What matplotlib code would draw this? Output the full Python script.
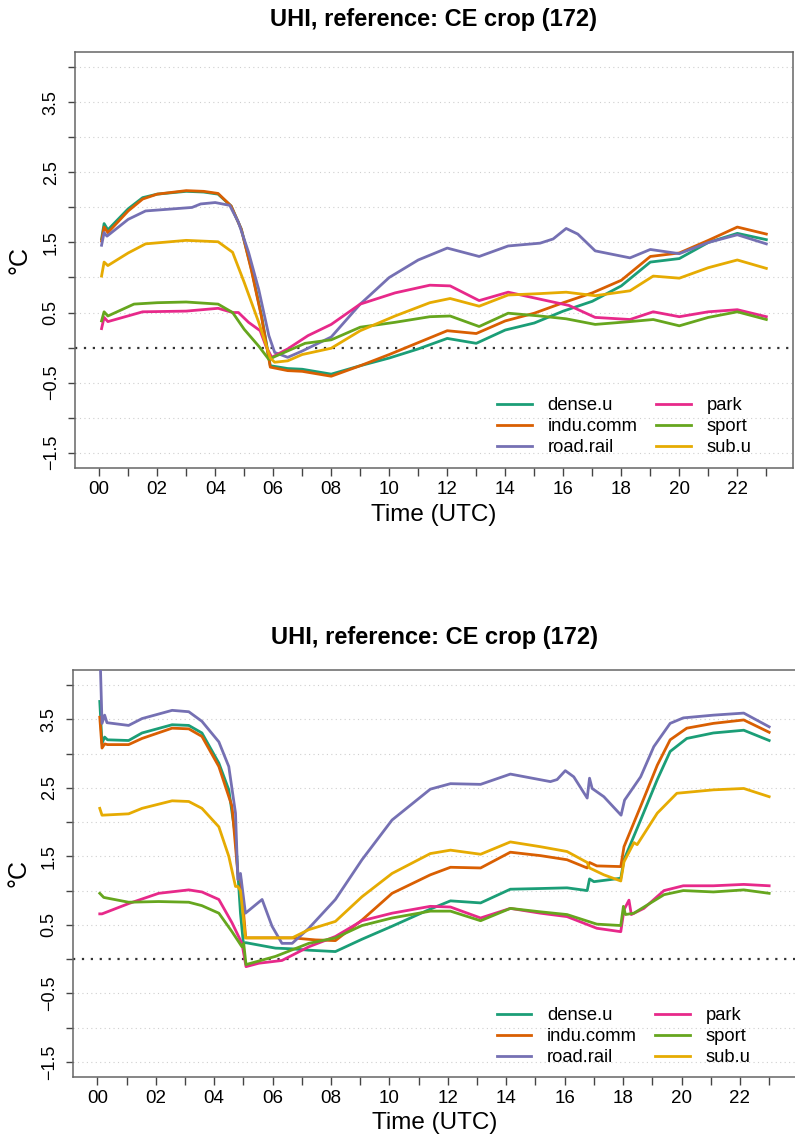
import numpy as np
import matplotlib
matplotlib.use("Agg")
import matplotlib.pyplot as plt

plt.rcParams['font.family'] = ['Liberation Sans', 'DejaVu Sans']

# series names and colours (Dark2)
names = ["dense.u", "indu.comm", "road.rail", "park", "sport", "sub.u"]
colors = ["#1B9E77", "#D95F02", "#7570B3", "#E7298A", "#66A61E", "#E6AB02"]

title = "UHI, reference: CE crop (172)"
hour_ticks = list(range(0, 24))
hour_labels = ["%02d" % h if h % 2 == 0 else "" for h in hour_ticks]
y_ticks = [-1.5, -1.0, -0.5, 0.0, 0.5, 1.0, 1.5, 2.0, 2.5, 3.0, 3.5, 4.0]
y_labels = ["\u22121.5", "", "\u22120.5", "", "0.5", "", "1.5", "", "2.5", "", "3.5", ""]

# ---- top panel (hours UTC, degC) ----
top_t_du = [0.083, 0.17, 0.3, 1.0, 1.5, 2.0, 3.0, 3.6, 4.1, 4.55, 4.9, 5.25, 5.6, 5.9, 6.5, 7.0,
            8.0, 9.0, 10.0, 11.0, 12.0, 13.0, 14.0, 15.0, 16.0, 17.0, 18.0, 19.0, 20.0, 21.0, 22.0, 23.0]
top_dense = [1.55, 1.77, 1.68, 1.98, 2.14, 2.19, 2.23, 2.22, 2.19, 2.02, 1.69, 1.12, 0.45, -0.26, -0.30, -0.31,
             -0.38, -0.26, -0.15, -0.02, 0.13, 0.06, 0.25, 0.35, 0.52, 0.66, 0.88, 1.22, 1.27, 1.50, 1.63, 1.54]
top_indu = [1.52, 1.72, 1.64, 1.95, 2.12, 2.19, 2.24, 2.23, 2.20, 2.02, 1.69, 1.10, 0.43, -0.28, -0.33, -0.34,
            -0.41, -0.26, -0.10, 0.07, 0.24, 0.20, 0.38, 0.49, 0.64, 0.78, 0.96, 1.30, 1.35, 1.53, 1.72, 1.62]
top_t_road = [0.083, 0.17, 0.27, 1.0, 1.6, 3.2, 3.5, 4.0, 4.5, 4.8, 5.15, 5.5, 5.85, 6.05, 6.5, 7.0, 8.0,
              9.0, 10.0, 11.0, 12.0, 13.1, 14.1, 15.2, 15.65, 16.1, 16.5, 17.1, 18.3, 19.0, 20.0, 21.0, 22.0, 23.0]
top_road = [1.46, 1.64, 1.59, 1.83, 1.95, 2.00, 2.05, 2.07, 2.03, 1.79, 1.36, 0.83, 0.17, -0.07, -0.14, -0.05, 0.15,
            0.62, 1.00, 1.25, 1.42, 1.30, 1.45, 1.49, 1.55, 1.70, 1.62, 1.38, 1.28, 1.40, 1.34, 1.50, 1.61, 1.48]
top_t_park = [0.083, 0.17, 0.3, 1.5, 3.0, 4.1, 4.6, 4.8, 5.15, 5.55, 5.75, 5.95, 6.5, 7.2, 8.0, 9.0, 10.2,
              11.4, 12.1, 13.1, 14.1, 15.2, 16.2, 17.1, 18.3, 19.1, 20.0, 21.0, 22.0, 23.0]
top_park = [0.27, 0.43, 0.37, 0.51, 0.52, 0.56, 0.50, 0.50, 0.36, 0.24, 0.02, -0.14, -0.02, 0.17, 0.33, 0.62, 0.78,
            0.89, 0.88, 0.67, 0.79, 0.69, 0.60, 0.43, 0.40, 0.51, 0.44, 0.51, 0.54, 0.44]
top_t_sport = [0.083, 0.17, 0.3, 1.2, 2.0, 3.0, 4.1, 4.6, 5.0, 5.5, 5.85, 6.05, 7.1, 8.0, 9.0, 10.2,
               11.4, 12.1, 13.1, 14.1, 15.2, 16.1, 17.1, 18.3, 19.1, 20.0, 21.0, 22.0, 23.0]
top_sport = [0.38, 0.51, 0.45, 0.62, 0.64, 0.65, 0.62, 0.50, 0.26, 0.02, -0.17, -0.13, 0.06, 0.11, 0.29, 0.36,
             0.44, 0.45, 0.30, 0.49, 0.45, 0.41, 0.33, 0.37, 0.40, 0.31, 0.43, 0.51, 0.40]
top_t_sub = [0.083, 0.17, 0.3, 1.0, 1.6, 3.0, 4.1, 4.6, 5.0, 5.5, 5.9, 6.05, 6.5, 7.0, 8.0, 9.0, 10.2,
             11.4, 12.1, 13.1, 14.1, 15.2, 16.1, 17.1, 18.3, 19.1, 20.0, 21.0, 22.0, 23.0]
top_sub = [1.02, 1.22, 1.17, 1.35, 1.48, 1.53, 1.51, 1.36, 0.93, 0.36, -0.15, -0.21, -0.19, -0.10, -0.01, 0.24, 0.45,
           0.64, 0.70, 0.59, 0.75, 0.77, 0.79, 0.74, 0.81, 1.02, 0.99, 1.14, 1.25, 1.13]

# ---- bottom panel ----
bot_t_dense = [0.083, 0.16, 0.25, 0.35, 1.07, 1.53, 2.56, 3.13, 3.58, 4.16, 4.5, 4.73, 4.9, 5.0, 5.08, 6.1,
               6.67, 7.24, 8.15, 9.06, 10.09, 11.4, 12.09, 13.12, 14.14, 15.17, 16.08, 16.77, 16.85, 17.0,
               17.92, 18.03, 18.6, 19.17, 19.61, 20.18, 21.09, 22.13, 23.0]
bot_dense = [3.76, 3.15, 3.24, 3.20, 3.19, 3.30, 3.42, 3.41, 3.30, 2.86, 2.47, 1.79, 0.67, 0.23, 0.24, 0.16,
             0.15, 0.13, 0.11, 0.29, 0.48, 0.73, 0.85, 0.82, 1.02, 1.03, 1.04, 1.00, 1.17, 1.13,
             1.18, 1.45, 2.03, 2.62, 3.03, 3.22, 3.30, 3.34, 3.19]
bot_t_indu = [0.083, 0.16, 0.25, 0.35, 1.07, 1.53, 2.56, 3.13, 3.58, 4.16, 4.61, 4.81, 4.9, 5.08, 6.1, 6.67,
              7.47, 8.15, 9.06, 10.09, 11.4, 12.09, 13.12, 14.14, 15.17, 16.08, 16.77, 16.85, 17.1, 17.92,
              18.03, 18.6, 19.17, 19.61, 20.18, 21.09, 22.13, 23.0]
bot_indu = [3.53, 3.08, 3.14, 3.13, 3.13, 3.22, 3.37, 3.36, 3.25, 2.81, 2.23, 1.25, 1.20, 0.31, 0.31, 0.31,
            0.28, 0.27, 0.57, 0.96, 1.23, 1.34, 1.33, 1.56, 1.51, 1.45, 1.33, 1.41, 1.36, 1.35,
            1.64, 2.23, 2.83, 3.20, 3.37, 3.44, 3.49, 3.31]
bot_t_road = [0.083, 0.16, 0.25, 0.33, 1.07, 1.53, 2.56, 3.13, 3.58, 4.16, 4.5, 4.73, 4.81, 4.9, 5.07, 5.64,
              5.98, 6.32, 6.67, 7.24, 8.15, 9.06, 10.09, 11.4, 12.09, 13.12, 14.14, 15.51, 15.74, 16.02,
              16.31, 16.77, 16.85, 16.94, 17.34, 17.93, 18.05, 18.6, 19.05, 19.61, 20.06, 21.09, 22.13, 23.0]
bot_road = [4.60, 3.44, 3.56, 3.45, 3.41, 3.51, 3.63, 3.61, 3.47, 3.17, 2.81, 2.13, 1.16, 1.25, 0.67, 0.87,
            0.48, 0.23, 0.23, 0.45, 0.87, 1.45, 2.03, 2.48, 2.56, 2.55, 2.70, 2.59, 2.62, 2.75,
            2.66, 2.35, 2.64, 2.49, 2.37, 2.10, 2.32, 2.66, 3.10, 3.44, 3.52, 3.56, 3.59, 3.39]
bot_t_park = [0.083, 0.16, 1.07, 2.1, 3.13, 3.58, 4.16, 4.61, 4.95, 5.09, 5.53, 6.32, 7.24, 8.15, 9.06, 10.09,
              11.4, 12.09, 13.12, 14.14, 15.17, 16.08, 17.1, 17.92, 18.03, 18.2, 18.28, 18.71, 19.4, 20.06,
              21.09, 22.13, 23.0]
bot_park = [0.66, 0.66, 0.81, 0.96, 1.01, 0.98, 0.87, 0.53, 0.23, -0.11, -0.06, -0.02, 0.18, 0.33, 0.56, 0.67,
            0.77, 0.76, 0.60, 0.74, 0.67, 0.62, 0.45, 0.40, 0.72, 0.86, 0.65, 0.74, 1.00, 1.07,
            1.07, 1.09, 1.07]
bot_t_sport = [0.083, 0.22, 1.07, 2.1, 3.13, 3.58, 4.16, 4.61, 4.95, 5.01, 5.09, 6.1, 7.24, 8.15, 9.06, 10.09,
               11.4, 12.09, 13.12, 14.14, 15.17, 16.08, 17.1, 17.92, 18.01, 18.08, 18.37, 19.4, 20.06, 21.09,
               22.13, 23.0]
bot_sport = [0.96, 0.90, 0.83, 0.84, 0.83, 0.78, 0.67, 0.40, 0.18, 0.23, -0.08, 0.04, 0.23, 0.31, 0.49, 0.60,
             0.70, 0.70, 0.56, 0.74, 0.69, 0.65, 0.51, 0.49, 0.77, 0.65, 0.67, 0.94, 1.00, 0.98,
             1.01, 0.96]
bot_t_sub = [0.083, 0.16, 1.07, 1.53, 2.56, 3.13, 3.58, 4.16, 4.5, 4.73, 4.81, 4.9, 5.07, 6.1, 6.67, 7.24,
             8.15, 9.06, 10.09, 11.4, 12.09, 13.12, 14.14, 15.17, 16.08, 16.77, 16.85, 17.34, 17.92, 18.03,
             18.37, 18.48, 19.17, 19.84, 21.09, 22.13, 23.0]
bot_sub = [2.20, 2.10, 2.12, 2.20, 2.31, 2.30, 2.20, 1.93, 1.50, 1.06, 1.06, 1.00, 0.31, 0.31, 0.31, 0.43,
           0.55, 0.91, 1.25, 1.54, 1.59, 1.53, 1.71, 1.64, 1.57, 1.41, 1.33, 1.23, 1.14, 1.42,
           1.70, 1.67, 2.13, 2.42, 2.47, 2.49, 2.37]

top_series = [(top_t_du, top_dense), (top_t_du, top_indu), (top_t_road, top_road),
              (top_t_park, top_park), (top_t_sport, top_sport), (top_t_sub, top_sub)]
bot_series = [(bot_t_dense, bot_dense), (bot_t_indu, bot_indu), (bot_t_road, bot_road),
              (bot_t_park, bot_park), (bot_t_sport, bot_sport), (bot_t_sub, bot_sub)]


def draw_panel(ax, series, ylab_x, xlab_y, leg_xy):
    for y in y_ticks:
        if y != 0:
            ax.axhline(y, color="#cfcfcf", lw=0.8, ls=(0, (1, 3)), zorder=1)
    ax.axhline(0, color="#333333", lw=1.6, ls=(0, (1, 3)), zorder=1)
    for (t, v), name, col in zip(series, names, colors):
        ax.plot(t, v, color=col, lw=2.0, label=name, zorder=3, solid_joinstyle="round")

    ax.set_xlim(-0.834, 23.917)
    ax.set_ylim(-1.72, 4.22)
    ax.set_xticks(hour_ticks)
    ax.set_xticklabels(hour_labels, fontsize=13.5)
    ax.set_yticks(y_ticks)
    ax.set_yticklabels(y_labels, fontsize=13, rotation=90, va="center")
    ax.tick_params(axis="x", length=6, width=1.0, color="#444444", pad=3.5)
    ax.tick_params(axis="y", length=5, width=1.0, color="#444444", pad=6)
    for s in ax.spines.values():
        s.set_color("#666666")
        s.set_linewidth(1.1)

    ax.set_title(title, fontsize=17, fontweight="bold", pad=19)
    ax.set_xlabel("Time (UTC)", fontsize=17.5, va="center")
    ax.xaxis.set_label_coords(0.5, xlab_y)
    ax.set_ylabel("\u00b0C", fontsize=18, va="center")
    ax.yaxis.set_label_coords(ylab_x, 0.5)

    ax.legend(loc="upper left", bbox_to_anchor=leg_xy, ncol=2, frameon=False,
              fontsize=13.2, handlelength=1.9, handletextpad=0.85, columnspacing=1.0,
              labelspacing=0.22, borderpad=0, borderaxespad=0)


fig = plt.figure(figsize=(7.95, 11.37), dpi=100)
ax1 = fig.add_axes([0.0943, 0.5884, 0.9031, 0.3659])
ax2 = fig.add_axes([0.0918, 0.0528, 0.9094, 0.3580])

draw_panel(ax1, top_series, -0.0766, -0.113, (0.588, 0.17))
draw_panel(ax2, bot_series, -0.076, -0.113, (0.586, 0.172))

fig.savefig("out.png", dpi=100)
